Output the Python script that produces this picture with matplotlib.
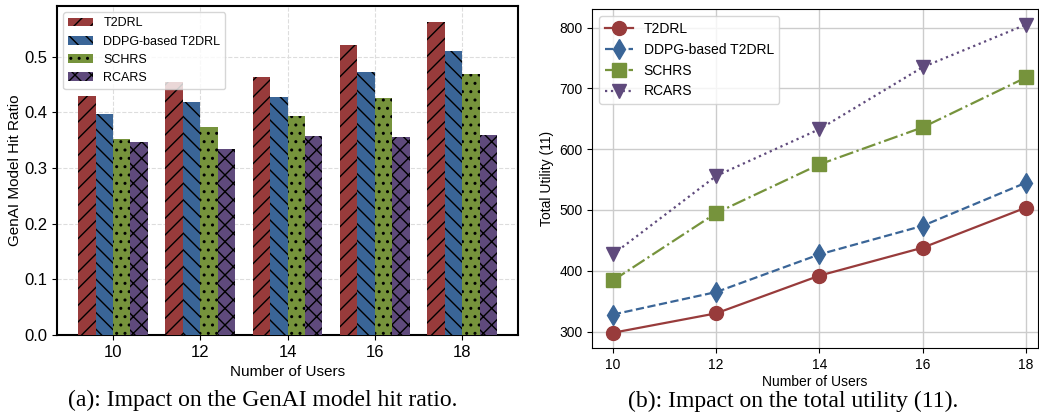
import matplotlib
matplotlib.use("Agg")
import matplotlib.pyplot as plt
import numpy as np

# data
users = [10, 12, 14, 16, 18]
methods = ["T2DRL", "DDPG-based T2DRL", "SCHRS", "RCARS"]
hit_t2drl = [0.430, 0.455, 0.464, 0.521, 0.562]
hit_ddpg = [0.398, 0.418, 0.427, 0.472, 0.511]
hit_schrs = [0.353, 0.373, 0.394, 0.426, 0.469]
hit_rcars = [0.346, 0.334, 0.358, 0.356, 0.360]
util_t2drl = [298, 330, 392, 438, 504]
util_ddpg = [328, 365, 427, 474, 545]
util_schrs = [384, 495, 575, 636, 718]
util_rcars = [427, 556, 633, 735, 805]

colors = ["#983b3b", "#3a6597", "#76933c", "#5f4a7c"]
hatches = ["//", "\\\\", "..", "xx"]

plt.rcParams["font.family"] = "Liberation Sans"
plt.rcParams["hatch.linewidth"] = 1.0

fig = plt.figure(figsize=(10.39, 4.16), dpi=100)

# (a) bar chart
ax1 = fig.add_axes([0.055, 0.195, 0.4435, 0.790])
x = np.arange(len(users))
w = 0.2
hits = [hit_t2drl, hit_ddpg, hit_schrs, hit_rcars]
for i, vals in enumerate(hits):
    ax1.bar(x + (i - 1.5) * w, vals, w, color=colors[i], hatch=hatches[i],
            edgecolor="black", linewidth=0, label=methods[i], zorder=3)
ax1.set_xticks(x)
ax1.set_xticklabels(users, fontsize=12)
ax1.tick_params(axis="y", labelsize=12)
ax1.set_yticks([0.0, 0.1, 0.2, 0.3, 0.4, 0.5])
ax1.set_ylim(0, 0.591)
ax1.set_xlabel("Number of Users", fontsize=11)
ax1.set_ylabel("GenAI Model Hit Ratio", fontsize=11, labelpad=2)
ax1.grid(True, linestyle="--", color="#dddddd", linewidth=0.8, zorder=0)
for s in ax1.spines.values():
    s.set_linewidth(1.5)
ax1.legend(loc="upper left", fontsize=9)

# (b) line chart
ax2 = fig.add_axes([0.570, 0.163, 0.429, 0.815])
styles = ["-", "--", "-.", ":"]
markers = ["o", "d", "s", "v"]
utils = [util_t2drl, util_ddpg, util_schrs, util_rcars]
for i, vals in enumerate(utils):
    ax2.plot(users, vals, linestyle=styles[i], marker=markers[i], color=colors[i],
             linewidth=1.6, markersize=10, label=methods[i], zorder=3)
ax2.set_xticks(users)
ax2.set_xlim(9.6, 18.23)
ax2.set_yticks([300, 400, 500, 600, 700, 800])
ax2.tick_params(labelsize=10)
ax2.set_xlabel("Number of Users", fontsize=10, labelpad=2)
ax2.set_ylabel("Total Utility (11)", fontsize=10)
ax2.grid(True, color="#cccccc", linewidth=1.0)
ax2.legend(loc="upper left", fontsize=10)

# captions
fig.text(0.2527, 0.038, "(a): Impact on the GenAI model hit ratio.", ha="center",
         va="center", fontsize=17, family="Liberation Serif")
fig.text(0.763, 0.036, "(b): Impact on the total utility (11).", ha="center",
         va="center", fontsize=17, family="Liberation Serif")

fig.savefig("out.png", dpi=100)
